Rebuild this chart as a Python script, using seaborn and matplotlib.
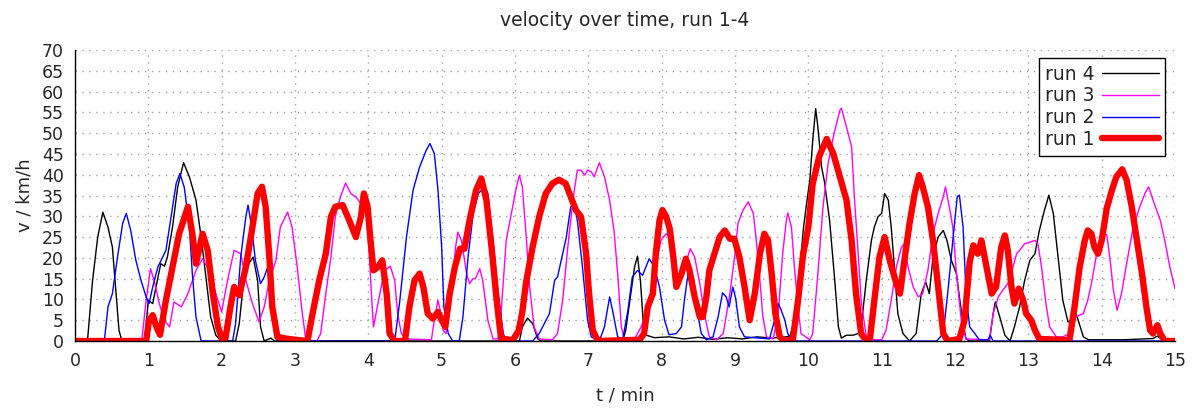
import matplotlib
matplotlib.use("Agg")
import matplotlib.pyplot as plt
import seaborn as sns
import pandas as pd

# (t [min], v [km/h])
run4 = [(0, 0), (0.17, 0), (0.24, 14.6), (0.31, 25), (0.38, 31), (0.45, 27.4), (0.51, 22.6), (0.56, 11.4), (0.60, 2.6), (0.64, 0),
        (0.95, 0), (1.0, 9.8), (1.06, 9), (1.10, 12.6), (1.17, 18.6), (1.22, 18), (1.26, 20.2), (1.33, 27.4), (1.40, 37), (1.48, 42.9),
        (1.56, 39.5), (1.65, 33.9), (1.72, 25), (1.79, 14.6), (1.85, 5.8), (1.92, 1.4), (1.99, 0),
        (2.19, 0), (2.24, 4.2), (2.30, 14.6), (2.37, 18.6), (2.43, 20.2), (2.49, 14.6), (2.53, 3.4), (2.58, 0), (2.67, 0.7), (2.72, 0),
        (6.06, 0), (6.10, 3.4), (6.17, 5.5), (6.24, 4.2), (6.31, 0.5), (6.36, 0),
        (7.47, 0), (7.51, 2.6), (7.58, 11.4), (7.63, 17.8), (7.67, 20.4), (7.71, 14.6), (7.75, 4.2), (7.79, 1.4), (7.9, 0.8), (8.1, 1),
        (8.3, 0.5), (8.5, 0.9), (8.7, 0.4), (8.9, 0.8), (9.1, 0.5), (9.3, 1), (9.5, 0.7), (9.7, 1),
        (9.75, 1.2), (9.81, 5), (9.88, 16.2), (9.93, 26.6), (9.97, 32.3), (10.02, 38.7), (10.06, 48.3), (10.10, 55.9), (10.13, 51.5),
        (10.18, 41.9), (10.22, 38.3), (10.29, 29), (10.36, 14.6), (10.41, 3.4), (10.45, 0.7), (10.52, 1.4), (10.61, 1.4), (10.68, 1.8),
        (10.72, 3.4), (10.79, 14.6), (10.86, 24.2), (10.90, 27.4), (10.95, 29.9), (11.0, 30.7), (11.04, 35.5), (11.09, 33.9),
        (11.13, 27.4), (11.18, 16.2), (11.22, 6.6), (11.29, 1.8), (11.38, 0), (11.47, 1.8), (11.54, 11.4), (11.60, 14.2), (11.65, 11.4),
        (11.70, 20.2), (11.77, 25), (11.84, 26.6), (11.89, 24.2), (11.95, 19.4), (12.02, 16.2), (12.06, 10.6), (12.11, 4.2),
        (12.15, 0.5), (12.2, 0),
        (12.47, 0), (12.52, 6.6), (12.55, 9.4), (12.61, 5.8), (12.68, 1.4), (12.75, 0), (12.81, 3.4), (12.88, 8.2), (12.95, 14.6),
        (13.02, 19.4), (13.09, 21), (13.15, 26.6), (13.22, 31.5), (13.28, 35.1), (13.34, 30.7), (13.40, 21), (13.47, 9.8),
        (13.54, 4.6), (13.59, 5), (13.63, 7.4), (13.68, 5), (13.75, 1), (13.82, 0.3), (14.3, 0.3), (14.7, 0.6), (14.76, 1.2),
        (14.82, 0.4), (15, 0.3)]

run3 = [(0, 0), (0.91, 0), (0.97, 9.8), (1.03, 17.4), (1.08, 14.6), (1.15, 9), (1.22, 5), (1.29, 3.4), (1.35, 9.4), (1.45, 8.2),
        (1.54, 11.4), (1.65, 17), (1.74, 19.8), (1.83, 17), (1.92, 11.4), (2.0, 7), (2.08, 14.6), (2.17, 21.8), (2.26, 21),
        (2.33, 14.6), (2.42, 9), (2.51, 4.6), (2.58, 8.2), (2.65, 14.6), (2.74, 19.4), (2.80, 27.4), (2.90, 31), (2.96, 27.4),
        (3.03, 17.8), (3.10, 6.6), (3.15, 0), (3.30, 0), (3.35, 1.8), (3.42, 11.4), (3.49, 20.2), (3.55, 29.9), (3.62, 34.7),
        (3.69, 38), (3.76, 35.5), (3.83, 34.7), (3.90, 33), (3.96, 32.3), (4.0, 25), (4.04, 12), (4.07, 3.4), (4.12, 8), (4.22, 17),
        (4.30, 18), (4.36, 14.6), (4.40, 6.6), (4.45, 1.8), (4.52, 0.5), (4.86, 0.3), (4.90, 5), (4.95, 9.8), (4.98, 7.4),
        (5.02, 2.6), (5.06, 1.8), (5.13, 11.4), (5.19, 22.6), (5.22, 26.2), (5.27, 24.2), (5.34, 16.2), (5.38, 13.8), (5.43, 15),
        (5.46, 15), (5.52, 17.4), (5.56, 14.6), (5.63, 5), (5.70, 0.5), (5.77, 0.5), (5.81, 6.6), (5.88, 24.2), (5.95, 30.7),
        (6.02, 37.1), (6.06, 39.9), (6.10, 37.1), (6.15, 25.8), (6.20, 13), (6.26, 3.4), (6.33, 0.5), (6.51, 0.3), (6.58, 1.8),
        (6.65, 9.8), (6.72, 22.6), (6.79, 33.9), (6.85, 41.1), (6.90, 41.1), (6.95, 39.9), (6.99, 41.1), (7.04, 40.7), (7.08, 39.5),
        (7.15, 42.9), (7.22, 39.5), (7.29, 33.9), (7.35, 26.6), (7.40, 16.2), (7.45, 3.4), (7.49, 0.5), (7.63, 0.5), (7.72, 3.4),
        (7.79, 6.6), (7.85, 11.4), (7.92, 17.8), (7.99, 24.2), (8.06, 25.8), (8.11, 25), (8.18, 17.8), (8.25, 14.6), (8.31, 17.8),
        (8.39, 22.2), (8.45, 20.2), (8.52, 13.8), (8.59, 5.8), (8.65, 1), (8.75, 0.3), (8.84, 1.8), (8.93, 11.4), (9.0, 21),
        (9.04, 28.3), (9.11, 31.5), (9.18, 33.5), (9.25, 30.7), (9.29, 24.2), (9.34, 14.6), (9.38, 5.8), (9.43, 1), (9.52, 0.5),
        (9.59, 6.6), (9.65, 21), (9.70, 29), (9.72, 30.8), (9.77, 27.4), (9.81, 17.8), (9.86, 8.2), (9.90, 1.8), (10.02, 0.3),
        (10.06, 1.8), (10.13, 16.2), (10.2, 32.3), (10.27, 42.7), (10.34, 49.1), (10.43, 55.5), (10.45, 56), (10.52, 51.5),
        (10.59, 46.7), (10.63, 33.9), (10.68, 21), (10.72, 9.8), (10.79, 1), (10.85, 0.3), (11.0, 0.3), (11.06, 2.6), (11.13, 9.8),
        (11.2, 17.8), (11.27, 22.6), (11.31, 23.4), (11.36, 17.8), (11.43, 13), (11.50, 10.6), (11.56, 11.4), (11.63, 17),
        (11.70, 25.8), (11.77, 30.7), (11.84, 34.7), (11.87, 37.1), (11.93, 31.5), (11.97, 27.4), (12.02, 16.2), (12.09, 4.2),
        (12.15, 0.5), (12.47, 0.3), (12.52, 6.6), (12.59, 10.6), (12.65, 12.2), (12.72, 13.8), (12.79, 17.8), (12.84, 21),
        (12.88, 21.8), (12.95, 23.4), (13.02, 23.8), (13.09, 24.2), (13.13, 23.4), (13.18, 17.8), (13.24, 9), (13.29, 3.4),
        (13.38, 1), (13.47, 1), (13.56, 1.8), (13.65, 5.8), (13.75, 6.6), (13.81, 9.8), (13.86, 13.8), (13.90, 17.8), (13.95, 23),
        (14.02, 26), (14.07, 25.5), (14.11, 20.2), (14.16, 12.2), (14.21, 7.4), (14.27, 11.4), (14.34, 18.6), (14.43, 27.4),
        (14.52, 32.3), (14.59, 35.5), (14.64, 37.1), (14.70, 33.9), (14.80, 29), (14.86, 24.2), (14.93, 17.8), (15.0, 12.6)]

run2 = [(0, 0), (0.40, 0), (0.45, 8.2), (0.51, 11.4), (0.58, 20.2), (0.65, 28.3), (0.70, 30.7), (0.76, 26.6), (0.83, 19.4),
        (0.90, 14.6), (0.97, 10.6), (1.01, 9), (1.06, 13), (1.13, 17.8), (1.24, 21.8), (1.31, 29.9), (1.38, 37.9), (1.43, 40.3),
        (1.49, 37), (1.56, 27.4), (1.60, 16.2), (1.65, 5.8), (1.72, 0),
        (2.15, 0), (2.19, 4.2), (2.26, 20.2), (2.33, 29.9), (2.36, 32.7), (2.41, 27.4), (2.46, 19.4), (2.53, 13.8), (2.58, 15.4),
        (2.62, 17.4), (2.67, 12.2), (2.71, 3.4), (2.76, 0),
        (4.36, 0), (4.43, 9.8), (4.52, 25), (4.61, 36.3), (4.70, 41.9), (4.79, 45.9), (4.84, 47.5), (4.90, 45.1), (4.95, 36.3),
        (5.0, 22.6), (5.03, 8.2), (5.09, 1.8), (5.15, 0), (5.24, 0), (5.29, 5.8), (5.36, 20.2), (5.43, 30.7), (5.50, 35.5),
        (5.59, 37.1), (5.63, 35.5), (5.70, 24.2), (5.77, 11.4), (5.84, 1.8), (5.88, 0),
        (6.24, 0), (6.33, 1.8), (6.47, 6.6), (6.54, 14.6), (6.58, 15.4), (6.63, 19.4), (6.70, 25), (6.76, 32.3), (6.81, 33),
        (6.85, 29), (6.92, 17.8), (6.99, 5), (7.04, 1), (7.15, 0), (7.22, 3.4), (7.29, 10.6), (7.33, 7.4), (7.40, 1), (7.47, 0.5),
        (7.54, 7.4), (7.60, 15.4), (7.67, 17), (7.74, 15.8), (7.83, 19.8), (7.90, 17.8), (7.97, 13), (8.04, 5), (8.10, 1.5),
        (8.20, 1.8), (8.27, 3.4), (8.31, 9.8), (8.36, 16.2), (8.40, 17.5), (8.45, 13), (8.50, 5.8), (8.54, 1.8), (8.61, 0.3),
        (8.70, 1), (8.77, 5.8), (8.83, 11.6), (8.88, 10.6), (8.92, 8.2), (8.97, 13), (9.01, 10.2), (9.06, 3.4), (9.13, 1),
        (9.47, 0.5), (9.54, 5), (9.59, 9), (9.63, 7.4), (9.68, 5), (9.72, 1.8), (9.77, 0),
        (11.75, 0), (11.84, 1.8), (11.90, 11.4), (11.97, 24.2), (12.03, 34.7), (12.06, 35.1), (12.11, 27.4), (12.15, 11.4),
        (12.2, 3.4), (12.27, 1.8), (12.33, 0.3), (12.45, 0.3), (12.48, 1.4), (12.52, 0), (15, 0)]

run1 = [(0, 0), (0.97, 0), (1.01, 5), (1.06, 6.2), (1.11, 3.4), (1.16, 1.5), (1.24, 9.8), (1.33, 17.8), (1.42, 25.8), (1.54, 32.3),
        (1.60, 25.8), (1.65, 18.6), (1.74, 25.8), (1.81, 21.8), (1.88, 11.4), (1.95, 3.4), (2.01, 0.2), (2.05, 0.5), (2.12, 8.2),
        (2.17, 13), (2.24, 11), (2.33, 17.8), (2.42, 27.4), (2.49, 35.5), (2.55, 37.1), (2.60, 32.3), (2.65, 20.2), (2.69, 8.2),
        (2.76, 1), (2.87, 0.6), (3.05, 0.2), (3.17, 0), (3.24, 6.6), (3.33, 14.6), (3.42, 21), (3.49, 29.9), (3.55, 32.3),
        (3.65, 32.7), (3.74, 29), (3.83, 25), (3.90, 29.9), (3.94, 35.5), (3.99, 32.3), (4.03, 24.2), (4.07, 17), (4.13, 17.8),
        (4.19, 19.4), (4.25, 11.4), (4.29, 1.8), (4.36, 0), (4.50, 0), (4.56, 8.2), (4.63, 14.6), (4.70, 16.2), (4.75, 13),
        (4.81, 6.6), (4.88, 5.4), (4.95, 7), (5.0, 5), (5.05, 3.4), (5.11, 11.4), (5.18, 17.8), (5.25, 22.2), (5.31, 22.2),
        (5.38, 29), (5.47, 36.3), (5.54, 39.1), (5.61, 33.9), (5.68, 22.6), (5.75, 9.8), (5.81, 0.6), (5.97, 0.2), (6.05, 2.5),
        (6.10, 7), (6.15, 14), (6.24, 22.6), (6.33, 29.9), (6.42, 35.5), (6.51, 37.9), (6.60, 38.8), (6.69, 37.9), (6.76, 34.7),
        (6.83, 31.5), (6.90, 29.9), (6.97, 21), (7.01, 11.4), (7.06, 2.6), (7.13, 0), (7.70, 0.3), (7.76, 1.8), (7.81, 8.2),
        (7.88, 11.4), (7.92, 21), (7.97, 29), (8.01, 31.5), (8.06, 30), (8.11, 27), (8.16, 20), (8.20, 13), (8.27, 16.2),
        (8.33, 19.8), (8.38, 17), (8.45, 10.6), (8.52, 5.8), (8.56, 5.8), (8.61, 10.6), (8.65, 17), (8.72, 21), (8.79, 25),
        (8.86, 26.6), (8.93, 24.6), (8.99, 24.6), (9.06, 20.2), (9.13, 13), (9.2, 5), (9.27, 11.4), (9.34, 21), (9.40, 25.8),
        (9.45, 24.2), (9.50, 16.2), (9.55, 6.6), (9.61, 1), (9.68, 0), (9.79, 0.5), (9.86, 9.8), (9.93, 21), (10.0, 27.4),
        (10.06, 37.9), (10.15, 44.5), (10.25, 48.6), (10.34, 45.1), (10.43, 39.5), (10.52, 33.9), (10.59, 24.2), (10.65, 11.4),
        (10.72, 1.8), (10.79, 0), (10.84, 0.5), (10.90, 9.8), (10.97, 20.2), (11.04, 25), (11.11, 19.4), (11.20, 13.8),
        (11.25, 11.4), (11.31, 19.4), (11.38, 28.3), (11.45, 35.5), (11.51, 39.9), (11.56, 37.1), (11.63, 32.3), (11.70, 24.2),
        (11.77, 13), (11.84, 1.8), (11.90, 0), (12.06, 0.5), (12.13, 5), (12.2, 19), (12.25, 23), (12.31, 21), (12.36, 24.2),
        (12.43, 17.8), (12.50, 11.4), (12.56, 13), (12.63, 22.6), (12.68, 25.4), (12.72, 21.8), (12.77, 13), (12.81, 9),
        (12.87, 12.6), (12.93, 9.8), (12.97, 6.6), (13.04, 5), (13.09, 2.6), (13.15, 0.5), (13.56, 0.2), (13.63, 8.2),
        (13.70, 17.8), (13.77, 24.2), (13.81, 26.6), (13.86, 25.8), (13.90, 22.6), (13.95, 21), (14.0, 24.2), (14.07, 32),
        (14.14, 36.3), (14.2, 39.5), (14.28, 41.3), (14.34, 38.7), (14.41, 32.3), (14.48, 24.2), (14.55, 16.2), (14.61, 8.2),
        (14.66, 2.6), (14.70, 1.8), (14.76, 3.8), (14.80, 1.8), (14.86, 0), (15, 0)]

runs = ["run 4", "run 3", "run 2", "run 1"]
colors = ["#000000", "#ff00ff", "#0000ff", "#ff0000"]
widths = [1.0, 1.0, 1.0, 4.6]

sns.set_theme(style="white")
plt.rcParams['font.family'] = ['DejaVu Sans']

fig = plt.figure(figsize=(11.94, 4.12), dpi=100)
ax = fig.add_axes([0.0628, 0.1723, 0.9213, 0.7063])

for name, data, c, lw in zip(runs, [run4, run3, run2, run1], colors, widths):
    df = pd.DataFrame(data, columns=["t", "v"])
    sns.lineplot(data=df, x="t", y="v", ax=ax, color=c, linewidth=lw, label=name,
                 estimator=None, sort=False)

ax.set_xlim(0, 15)
ax.set_ylim(0, 70)
ax.set_xticks(range(0, 16))
ax.set_yticks(range(0, 71, 5))
ax.grid(True, color="#a0a0a0", linestyle=(0, (1, 4)), linewidth=1)
ax.tick_params(direction="in", length=6, width=1, color="black", labelsize=12.5, pad=8)
for s in ["top", "right"]:
    ax.spines[s].set_visible(False)
for s in ["left", "bottom"]:
    ax.spines[s].set_color("black")
    ax.spines[s].set_linewidth(1)

ax.set_xlabel("t / min", fontsize=13, labelpad=12)
ax.set_ylabel("v / km/h", fontsize=13, labelpad=6)
ax.set_title("velocity over time, run 1-4", fontsize=13.5, pad=17)

leg = ax.legend(loc="upper right", bbox_to_anchor=(0.991, 0.9725), borderaxespad=0,
                markerfirst=False, fontsize=13.5, frameon=True, fancybox=False,
                edgecolor="black", framealpha=1, handlelength=3.0, handletextpad=0.4,
                labelspacing=0.15, borderpad=0.35)
leg.get_frame().set_linewidth(1)

fig.savefig("out.png", dpi=100)
